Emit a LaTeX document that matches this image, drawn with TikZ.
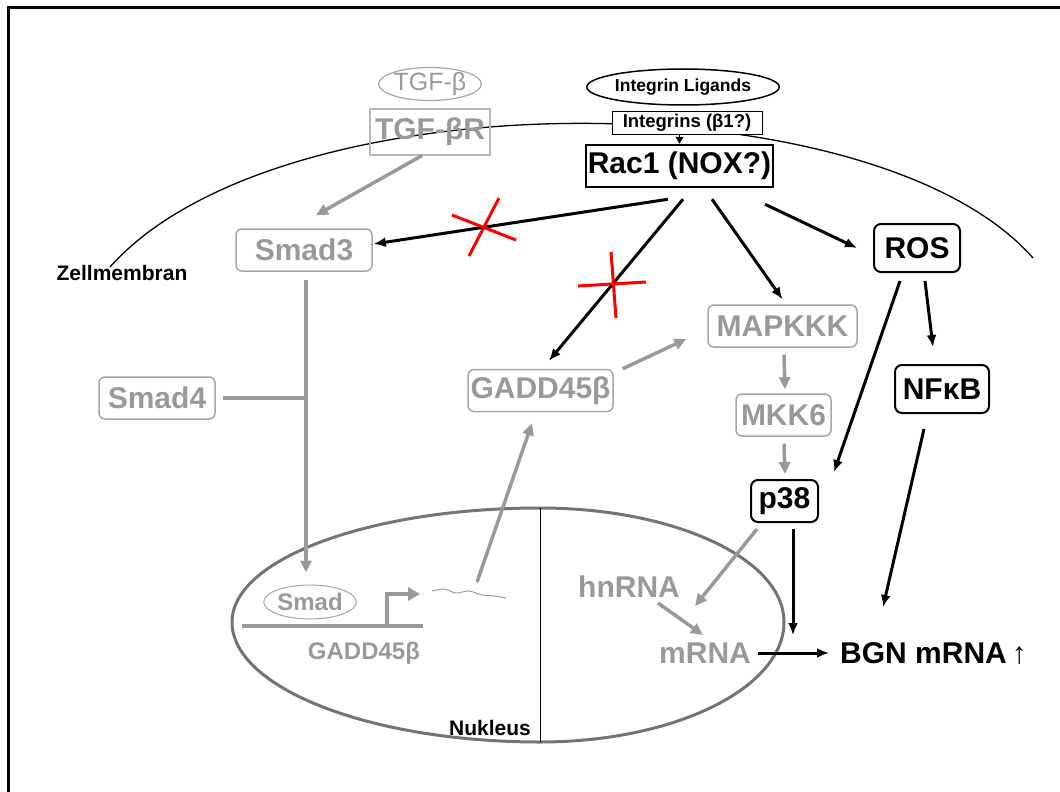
\documentclass[tikz,border=0pt]{standalone}
\usepackage{fontspec}
\setmainfont{Liberation Sans}
\usetikzlibrary{arrows.meta, calc, shapes.geometric}
\definecolor{pathgray}{HTML}{999999}
\definecolor{boxgray}{HTML}{A6A6A6}
\newcommand\boxfont{\fontsize{30}{32}\selectfont\bfseries}
\newcommand\smallbold{\fontsize{21}{23}\selectfont\bfseries}

\begin{document}
\begin{tikzpicture}[x=1pt, y=-1pt,
      gbox/.style = {draw=boxgray, line width=1.5pt, rounded corners=6pt, text=pathgray, font=\boxfont, inner sep=0pt, minimum height=42pt},
      kbox/.style = {draw, line width=2pt, rounded corners=7pt, font=\boxfont, inner sep=0pt, minimum height=48pt},
      gtext/.style = {text=pathgray, font=\boxfont, inner sep=0pt},
      barrow/.style = {-{Latex[length=12pt,width=10pt]}, line width=3pt},
      garrow/.style = {-{Triangle[length=12pt,width=11pt]}, line width=3.5pt, draw=pathgray},
      gline/.style = {line width=3.5pt, draw=pathgray},
      cross/.style = {red, line width=3pt}
    ]
    \useasboundingbox (0,0) rectangle (1060,792);

    % frame and cell membrane
    \draw[line width=3pt] (8,792) -- (8,8) -- (1060,8);
    \draw[line width=1.3pt] (110,267) .. controls (280,76) and (875,78) .. (1033,258);
    \node[font=\smallbold, inner sep=0pt] (membrane) at (122,273) {Zellmembran};

    % nucleus
    \coordinate (nuc w) at (232,622);
    \coordinate (nuc n) at (540,508);
    \coordinate (nuc e) at (784,622);
    \coordinate (nuc s) at (540,742);
    \draw[line width=3pt, draw=black!55] (nuc w) .. controls (232,559) and (370,508) .. (nuc n)
      .. controls (675,508) and (784,559) .. (nuc e)
      .. controls (784,688) and (675,742) .. (nuc s)
      .. controls (370,742) and (232,688) .. (nuc w);
    \draw[line width=1pt] (nuc n) -- (nuc s);
    \node[font=\smallbold, inner sep=0pt] (nucleus) at (490,728) {Nukleus};

    % receptors
    \node[ellipse, draw=boxgray, line width=1.2pt, text=pathgray, minimum width=86pt, minimum height=32pt, inner sep=0pt, font=\fontsize{25}{27}\selectfont] (tgfb) at (430,84) {TGF-β};
    \node[draw=boxgray!80, line width=1.2pt, text=pathgray, font=\boxfont, minimum width=120pt, minimum height=46pt, inner sep=0pt] (tgfbr) at (430,132) {TGF-βR};
    \node[ellipse, draw, line width=1.5pt, minimum width=150pt, minimum height=36pt, inner sep=0pt, font=\fontsize{17.5}{19}\selectfont\bfseries] (ligands) at (683,87) {Integrin Ligands};
    \node[draw, fill=white, line width=1pt, minimum width=150pt, minimum height=23pt, inner sep=0pt, font=\fontsize{18.5}{20}\selectfont\bfseries] (integrins) at (687,122.5) {Integrins (β1?)};
    \node[draw, line width=2.5pt, minimum width=187pt, minimum height=42pt, inner sep=0pt, font=\boxfont] (rac) at (679.5,166) {Rac1 (NOX?)};
    \draw[-{Triangle[length=7pt,width=8pt]}, line width=1pt] (integrins.south -| rac.north) -- (rac.north);

    % signalling nodes
    \node[gbox, minimum width=136pt] (smad3) at (304,250) {Smad3};
    \node[gbox, minimum width=116pt] (smad4) at (157,398) {Smad4};
    \node[gbox, minimum width=145pt] (gadd) at (540.5,390.5) {GADD45β};
    \node[gbox, minimum width=149pt] (mapkkk) at (782.5,326) {MAPKKK};
    \node[gbox, minimum width=95pt] (mkk6) at (783.5,415) {MKK6};
    \node[kbox, minimum width=67pt, minimum height=42pt] (p38) at (784.5,501) {p38};
    \node[kbox, minimum width=86pt] (ros) at (917,248) {ROS};
    \node[kbox, minimum width=94pt] (nfkb) at (942,389) {NFκB};

    % inside the nucleus
    \node[ellipse, draw=boxgray, line width=1pt, text=pathgray, minimum width=83pt, minimum height=34pt, inner sep=0pt, font=\fontsize{24}{26}\selectfont\bfseries] (smad) at (310,602) {Smad};
    \coordinate (gene w) at (242,626);
    \coordinate (gene e) at (423,626);
    \coordinate (tss) at (387,626);
    \draw[line width=4pt, draw=pathgray] (gene w) -- (gene e);
    \draw[gline, -{Triangle[length=12pt,width=13pt]}] (tss) |- ++(33,-32);
    \node[gtext, font=\fontsize{24}{26}\selectfont\bfseries] (gene) at (364,653) {GADD45β};
    \draw[pathgray, line width=1pt] plot[smooth] coordinates {(432,591) (444,589) (456,593) (469,591) (482,595) (495,596) (506,598)};
    \coordinate (transcript) at (477,582);
    \node[gtext] (hnrna) at (629,587) {hnRNA};
    \node[gtext] (mrna) at (705,653) {mRNA};
    \node[font=\boxfont, inner sep=0pt, anchor=west] (bgn) at (840,653) {BGN mRNA\,↑};

    % grey connectors
    \draw[garrow] ([shift={(-8,0)}]tgfbr.south) -- ([shift={(12,-13)}]smad3.north);
    \coordinate (smadline) at ([shift={(2,8)}]smad3.south);
    \draw[garrow] (smadline) -- ([shift={(0,-12)}]smadline |- smad.north);
    \draw[gline] ([shift={(7,0)}]smad4.east) -- (smad4.east -| smadline);
    \draw[garrow] (transcript) -- ([shift={(-8.5,11)}]gadd.south);
    \draw[garrow] ([shift={(9,0)}]gadd.north east) -- ([shift={(-21,13)}]mapkkk.west);
    \draw[garrow] ([shift={(1.5,7)}]mapkkk.south) -- ([shift={(1.5,-4)}]mkk6.north);
    \draw[garrow] ([shift={(0.5,7)}]mkk6.south) -- ([shift={(0.5,-5)}]p38.north);
    \draw[garrow] ([shift={(-27.5,6)}]p38.south) -- ([shift={(-10,-47)}]mrna.center);
    \draw[garrow] ([shift={(29,16)}]hnrna.center) -- ([shift={(-2,-18)}]mrna.center);

    % black connectors
    \draw[barrow] ([shift={(-11.5,11)}]rac.south) -- ([shift={(1,-6)}]smad3.east);
    \draw[barrow] ([shift={(3.5,11)}]rac.south) -- ([shift={(8.5,-8)}]gadd.north);
    \draw[barrow] ([shift={(32.5,11)}]rac.south) -- ([shift={(0,-5)}]mapkkk.north);
    \draw[barrow] ([shift={(85.5,16)}]rac.south) -- ([shift={(-16,0)}]ros.west);
    \draw[barrow] ([shift={(8,8)}]ros.south) -- ([shift={(-9,-17)}]nfkb.north);
    \draw[barrow] ([shift={(-17,8)}]ros.south) -- ([shift={(15,-7)}]p38.north east);
    \draw[barrow] ([shift={(-18,15)}]nfkb.south) -- ([shift={(43,-46)}]bgn.west);
    \draw[barrow] ([shift={(8.5,6)}]p38.south) -- ++(0,106);
    \draw[barrow] ([shift={(7,0)}]mrna.east) -- ([shift={(-11,0)}]bgn.west);

    % blocked links
    \draw[cross] (452,215) -- (516,240);
    \draw[cross] (499,198) -- (469,256);
    \draw[cross] (578,286) -- (646,282);
    \draw[cross] (611,252) -- (616,318);
\end{tikzpicture}
\end{document}
